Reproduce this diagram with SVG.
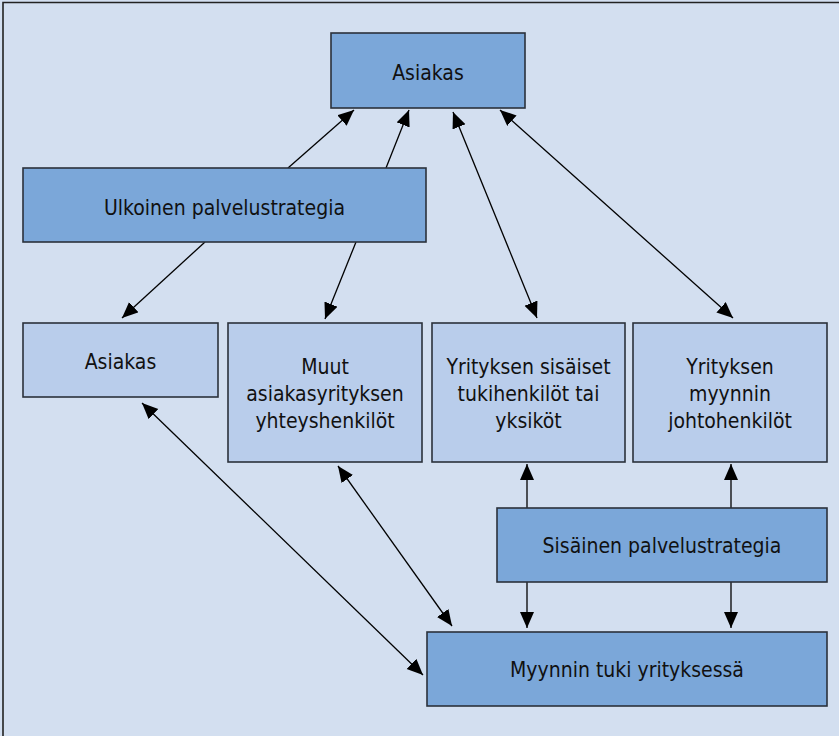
<svg xmlns="http://www.w3.org/2000/svg" width="839" height="736" viewBox="0 0 839 736">
  <style>
    .dark { fill: #7ba7d9; stroke: #2b313b; stroke-width: 1.6; }
    .light { fill: #b9cdeb; stroke: #2b313b; stroke-width: 1.6; }
    .lbl { font-family: "DejaVu Sans Condensed", "DejaVu Sans", sans-serif; font-stretch: condensed; font-size: 21px; fill: #111; text-anchor: middle; }
    .edge { stroke: #000; stroke-width: 1.3; fill: none; }
  </style>
  <defs>
    <marker id="arrow" markerUnits="userSpaceOnUse" markerWidth="17" markerHeight="15" refX="16" refY="7" orient="auto-start-reverse">
      <path d="M0,0 L16,7 L0,14 z" fill="#000"/>
    </marker>
  </defs>

  <!-- background panel with frame on top and left -->
  <rect x="0" y="0" width="839" height="736" fill="#d3dff0"/>
  <path d="M3,736 V2.5 H839" fill="none" stroke="#222" stroke-width="1.6"/>

  <!-- connectors -->
  <g id="connectors">
    <line class="edge" x1="288" y1="168" x2="354" y2="110" marker-end="url(#arrow)"/>
    <line class="edge" x1="386" y1="168" x2="409" y2="110" marker-end="url(#arrow)"/>
    <line class="edge" x1="205" y1="242" x2="122" y2="318" marker-end="url(#arrow)"/>
    <line class="edge" x1="356" y1="242" x2="325" y2="319" marker-end="url(#arrow)"/>
    <line class="edge" x1="453" y1="112" x2="537" y2="318" marker-start="url(#arrow)" marker-end="url(#arrow)"/>
    <line class="edge" x1="500" y1="110" x2="733" y2="318" marker-start="url(#arrow)" marker-end="url(#arrow)"/>
    <line class="edge" x1="142" y1="403" x2="423" y2="675" marker-start="url(#arrow)" marker-end="url(#arrow)"/>
    <line class="edge" x1="338" y1="466" x2="452" y2="626" marker-start="url(#arrow)" marker-end="url(#arrow)"/>
    <line class="edge" x1="527" y1="508" x2="527" y2="464" marker-end="url(#arrow)"/>
    <line class="edge" x1="731" y1="508" x2="731" y2="464" marker-end="url(#arrow)"/>
    <line class="edge" x1="527" y1="582" x2="527" y2="628" marker-end="url(#arrow)"/>
    <line class="edge" x1="731" y1="582" x2="731" y2="628" marker-end="url(#arrow)"/>
  </g>

  <g id="asiakas-top">
    <rect class="dark" x="331" y="33" width="194" height="75"/>
    <text class="lbl" x="428" y="80">Asiakas</text>
  </g>

  <g id="ulkoinen">
    <rect class="dark" x="23" y="168" width="403" height="74"/>
    <text class="lbl" x="224.5" y="215">Ulkoinen palvelustrategia</text>
  </g>

  <g id="asiakas">
    <rect class="light" x="23" y="323" width="195" height="74"/>
    <text class="lbl" x="120.5" y="369">Asiakas</text>
  </g>

  <g id="muut">
    <rect class="light" x="228" y="323" width="194" height="139"/>
    <text class="lbl" x="325" y="374">Muut</text>
    <text class="lbl" x="325" y="401">asiakasyrityksen</text>
    <text class="lbl" x="325" y="428">yhteyshenkilöt</text>
  </g>

  <g id="sisaiset">
    <rect class="light" x="432" y="323" width="193" height="139"/>
    <text class="lbl" x="528.5" y="374">Yrityksen sisäiset</text>
    <text class="lbl" x="528.5" y="401">tukihenkilöt tai</text>
    <text class="lbl" x="528.5" y="428">yksiköt</text>
  </g>

  <g id="johto">
    <rect class="light" x="633" y="323" width="194" height="139"/>
    <text class="lbl" x="730" y="374">Yrityksen</text>
    <text class="lbl" x="730" y="401">myynnin</text>
    <text class="lbl" x="730" y="428">johtohenkilöt</text>
  </g>

  <g id="sisainen">
    <rect class="dark" x="497" y="508" width="330" height="74"/>
    <text class="lbl" x="662" y="553">Sisäinen palvelustrategia</text>
  </g>

  <g id="myynnin-tuki">
    <rect class="dark" x="427" y="632" width="400" height="74"/>
    <text class="lbl" x="627" y="677">Myynnin tuki yrityksessä</text>
  </g>
</svg>
